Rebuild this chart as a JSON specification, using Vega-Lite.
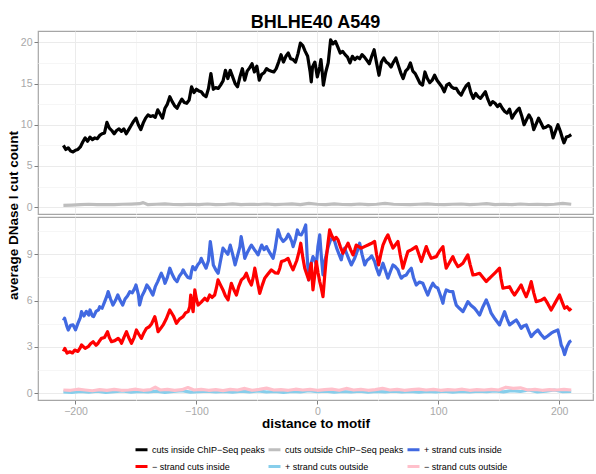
{
  "$schema": "https://vega.github.io/schema/vega-lite/v6.json",
  "padding": {"left": 5, "top": 14, "right": 0, "bottom": 2},
  "title": {"text": "BHLHE40 A549", "fontSize": 18, "fontWeight": "bold", "font": "Liberation Sans", "color": "#000000", "anchor": "middle", "frame": "group", "baseline": "alphabetic", "offset": -16},
  "bounds": "flush",
  "spacing": 3,
  "config": {
    "view": {"stroke": "#A6A6A6", "strokeWidth": 1.2},
    "font": "Liberation Sans",
    "axis": {"domain": false, "tickColor": "#7F7F7F", "tickSize": 4, "labelColor": "#A8A8A8", "labelFontSize": 10.5, "labelPadding": 2, "titleFontSize": 13.5, "titleFontWeight": "bold", "titleColor": "#000000", "labelFont": "Liberation Sans", "titleFont": "Liberation Sans"}
  },
  "datasets": {
    "top": [
      {"distance": -210, "count": 7.5, "series": "cuts inside ChIP−Seq peaks"},
      {"distance": -208, "count": 7.0, "series": "cuts inside ChIP−Seq peaks"},
      {"distance": -206, "count": 7.2, "series": "cuts inside ChIP−Seq peaks"},
      {"distance": -204, "count": 6.8, "series": "cuts inside ChIP−Seq peaks"},
      {"distance": -202, "count": 6.7, "series": "cuts inside ChIP−Seq peaks"},
      {"distance": -200, "count": 6.9, "series": "cuts inside ChIP−Seq peaks"},
      {"distance": -198, "count": 7.0, "series": "cuts inside ChIP−Seq peaks"},
      {"distance": -196, "count": 7.3, "series": "cuts inside ChIP−Seq peaks"},
      {"distance": -194, "count": 7.9, "series": "cuts inside ChIP−Seq peaks"},
      {"distance": -192, "count": 8.4, "series": "cuts inside ChIP−Seq peaks"},
      {"distance": -190, "count": 8.0, "series": "cuts inside ChIP−Seq peaks"},
      {"distance": -188, "count": 8.5, "series": "cuts inside ChIP−Seq peaks"},
      {"distance": -186, "count": 8.2, "series": "cuts inside ChIP−Seq peaks"},
      {"distance": -184, "count": 8.4, "series": "cuts inside ChIP−Seq peaks"},
      {"distance": -182, "count": 8.3, "series": "cuts inside ChIP−Seq peaks"},
      {"distance": -180, "count": 8.7, "series": "cuts inside ChIP−Seq peaks"},
      {"distance": -178, "count": 8.9, "series": "cuts inside ChIP−Seq peaks"},
      {"distance": -176, "count": 9.0, "series": "cuts inside ChIP−Seq peaks"},
      {"distance": -174, "count": 10.3, "series": "cuts inside ChIP−Seq peaks"},
      {"distance": -172, "count": 9.6, "series": "cuts inside ChIP−Seq peaks"},
      {"distance": -170, "count": 9.3, "series": "cuts inside ChIP−Seq peaks"},
      {"distance": -168, "count": 8.9, "series": "cuts inside ChIP−Seq peaks"},
      {"distance": -166, "count": 9.3, "series": "cuts inside ChIP−Seq peaks"},
      {"distance": -164, "count": 9.5, "series": "cuts inside ChIP−Seq peaks"},
      {"distance": -162, "count": 9.2, "series": "cuts inside ChIP−Seq peaks"},
      {"distance": -160, "count": 9.5, "series": "cuts inside ChIP−Seq peaks"},
      {"distance": -158, "count": 8.9, "series": "cuts inside ChIP−Seq peaks"},
      {"distance": -156, "count": 9.4, "series": "cuts inside ChIP−Seq peaks"},
      {"distance": -154, "count": 9.9, "series": "cuts inside ChIP−Seq peaks"},
      {"distance": -152, "count": 10.4, "series": "cuts inside ChIP−Seq peaks"},
      {"distance": -150, "count": 10.8, "series": "cuts inside ChIP−Seq peaks"},
      {"distance": -148, "count": 10.0, "series": "cuts inside ChIP−Seq peaks"},
      {"distance": -146, "count": 9.4, "series": "cuts inside ChIP−Seq peaks"},
      {"distance": -144, "count": 10.2, "series": "cuts inside ChIP−Seq peaks"},
      {"distance": -142, "count": 10.8, "series": "cuts inside ChIP−Seq peaks"},
      {"distance": -140, "count": 11.2, "series": "cuts inside ChIP−Seq peaks"},
      {"distance": -138, "count": 11.0, "series": "cuts inside ChIP−Seq peaks"},
      {"distance": -136, "count": 11.1, "series": "cuts inside ChIP−Seq peaks"},
      {"distance": -134, "count": 10.9, "series": "cuts inside ChIP−Seq peaks"},
      {"distance": -132, "count": 11.8, "series": "cuts inside ChIP−Seq peaks"},
      {"distance": -130, "count": 11.3, "series": "cuts inside ChIP−Seq peaks"},
      {"distance": -128, "count": 10.8, "series": "cuts inside ChIP−Seq peaks"},
      {"distance": -126, "count": 12.0, "series": "cuts inside ChIP−Seq peaks"},
      {"distance": -124, "count": 12.5, "series": "cuts inside ChIP−Seq peaks"},
      {"distance": -122, "count": 13.4, "series": "cuts inside ChIP−Seq peaks"},
      {"distance": -120, "count": 12.8, "series": "cuts inside ChIP−Seq peaks"},
      {"distance": -118, "count": 12.3, "series": "cuts inside ChIP−Seq peaks"},
      {"distance": -116, "count": 12.0, "series": "cuts inside ChIP−Seq peaks"},
      {"distance": -114, "count": 12.6, "series": "cuts inside ChIP−Seq peaks"},
      {"distance": -112, "count": 13.1, "series": "cuts inside ChIP−Seq peaks"},
      {"distance": -110, "count": 12.7, "series": "cuts inside ChIP−Seq peaks"},
      {"distance": -108, "count": 12.6, "series": "cuts inside ChIP−Seq peaks"},
      {"distance": -106, "count": 13.0, "series": "cuts inside ChIP−Seq peaks"},
      {"distance": -104, "count": 14.6, "series": "cuts inside ChIP−Seq peaks"},
      {"distance": -102, "count": 13.9, "series": "cuts inside ChIP−Seq peaks"},
      {"distance": -100, "count": 14.3, "series": "cuts inside ChIP−Seq peaks"},
      {"distance": -98, "count": 14.1, "series": "cuts inside ChIP−Seq peaks"},
      {"distance": -96, "count": 14.0, "series": "cuts inside ChIP−Seq peaks"},
      {"distance": -94, "count": 13.6, "series": "cuts inside ChIP−Seq peaks"},
      {"distance": -92, "count": 13.4, "series": "cuts inside ChIP−Seq peaks"},
      {"distance": -90, "count": 14.4, "series": "cuts inside ChIP−Seq peaks"},
      {"distance": -88, "count": 16.2, "series": "cuts inside ChIP−Seq peaks"},
      {"distance": -86, "count": 14.3, "series": "cuts inside ChIP−Seq peaks"},
      {"distance": -84, "count": 14.5, "series": "cuts inside ChIP−Seq peaks"},
      {"distance": -82, "count": 14.4, "series": "cuts inside ChIP−Seq peaks"},
      {"distance": -80, "count": 14.8, "series": "cuts inside ChIP−Seq peaks"},
      {"distance": -78, "count": 15.3, "series": "cuts inside ChIP−Seq peaks"},
      {"distance": -76, "count": 16.6, "series": "cuts inside ChIP−Seq peaks"},
      {"distance": -74, "count": 15.6, "series": "cuts inside ChIP−Seq peaks"},
      {"distance": -72, "count": 16.6, "series": "cuts inside ChIP−Seq peaks"},
      {"distance": -70, "count": 15.8, "series": "cuts inside ChIP−Seq peaks"},
      {"distance": -68, "count": 15.0, "series": "cuts inside ChIP−Seq peaks"},
      {"distance": -66, "count": 14.6, "series": "cuts inside ChIP−Seq peaks"},
      {"distance": -64, "count": 15.8, "series": "cuts inside ChIP−Seq peaks"},
      {"distance": -62, "count": 16.8, "series": "cuts inside ChIP−Seq peaks"},
      {"distance": -60, "count": 15.4, "series": "cuts inside ChIP−Seq peaks"},
      {"distance": -58, "count": 16.5, "series": "cuts inside ChIP−Seq peaks"},
      {"distance": -56, "count": 16.9, "series": "cuts inside ChIP−Seq peaks"},
      {"distance": -54, "count": 17.4, "series": "cuts inside ChIP−Seq peaks"},
      {"distance": -52, "count": 16.4, "series": "cuts inside ChIP−Seq peaks"},
      {"distance": -50, "count": 17.1, "series": "cuts inside ChIP−Seq peaks"},
      {"distance": -48, "count": 15.4, "series": "cuts inside ChIP−Seq peaks"},
      {"distance": -46, "count": 16.1, "series": "cuts inside ChIP−Seq peaks"},
      {"distance": -44, "count": 16.3, "series": "cuts inside ChIP−Seq peaks"},
      {"distance": -42, "count": 16.8, "series": "cuts inside ChIP−Seq peaks"},
      {"distance": -40, "count": 16.6, "series": "cuts inside ChIP−Seq peaks"},
      {"distance": -38, "count": 16.5, "series": "cuts inside ChIP−Seq peaks"},
      {"distance": -36, "count": 16.4, "series": "cuts inside ChIP−Seq peaks"},
      {"distance": -34, "count": 16.8, "series": "cuts inside ChIP−Seq peaks"},
      {"distance": -32, "count": 17.6, "series": "cuts inside ChIP−Seq peaks"},
      {"distance": -30, "count": 18.5, "series": "cuts inside ChIP−Seq peaks"},
      {"distance": -28, "count": 17.6, "series": "cuts inside ChIP−Seq peaks"},
      {"distance": -26, "count": 18.3, "series": "cuts inside ChIP−Seq peaks"},
      {"distance": -24, "count": 18.7, "series": "cuts inside ChIP−Seq peaks"},
      {"distance": -22, "count": 18.0, "series": "cuts inside ChIP−Seq peaks"},
      {"distance": -20, "count": 17.9, "series": "cuts inside ChIP−Seq peaks"},
      {"distance": -18, "count": 17.6, "series": "cuts inside ChIP−Seq peaks"},
      {"distance": -16, "count": 18.6, "series": "cuts inside ChIP−Seq peaks"},
      {"distance": -14, "count": 19.9, "series": "cuts inside ChIP−Seq peaks"},
      {"distance": -12, "count": 19.6, "series": "cuts inside ChIP−Seq peaks"},
      {"distance": -10, "count": 18.9, "series": "cuts inside ChIP−Seq peaks"},
      {"distance": -8, "count": 18.3, "series": "cuts inside ChIP−Seq peaks"},
      {"distance": -6, "count": 16.5, "series": "cuts inside ChIP−Seq peaks"},
      {"distance": -5, "count": 15.2, "series": "cuts inside ChIP−Seq peaks"},
      {"distance": -4, "count": 17.0, "series": "cuts inside ChIP−Seq peaks"},
      {"distance": -2, "count": 17.6, "series": "cuts inside ChIP−Seq peaks"},
      {"distance": 0, "count": 15.8, "series": "cuts inside ChIP−Seq peaks"},
      {"distance": 2, "count": 17.0, "series": "cuts inside ChIP−Seq peaks"},
      {"distance": 3, "count": 17.9, "series": "cuts inside ChIP−Seq peaks"},
      {"distance": 4, "count": 16.5, "series": "cuts inside ChIP−Seq peaks"},
      {"distance": 5, "count": 14.8, "series": "cuts inside ChIP−Seq peaks"},
      {"distance": 7, "count": 16.4, "series": "cuts inside ChIP−Seq peaks"},
      {"distance": 9, "count": 17.5, "series": "cuts inside ChIP−Seq peaks"},
      {"distance": 11, "count": 20.3, "series": "cuts inside ChIP−Seq peaks"},
      {"distance": 13, "count": 19.8, "series": "cuts inside ChIP−Seq peaks"},
      {"distance": 15, "count": 20.1, "series": "cuts inside ChIP−Seq peaks"},
      {"distance": 17, "count": 19.4, "series": "cuts inside ChIP−Seq peaks"},
      {"distance": 19, "count": 18.7, "series": "cuts inside ChIP−Seq peaks"},
      {"distance": 21, "count": 18.9, "series": "cuts inside ChIP−Seq peaks"},
      {"distance": 23, "count": 18.5, "series": "cuts inside ChIP−Seq peaks"},
      {"distance": 25, "count": 18.2, "series": "cuts inside ChIP−Seq peaks"},
      {"distance": 27, "count": 17.5, "series": "cuts inside ChIP−Seq peaks"},
      {"distance": 29, "count": 18.3, "series": "cuts inside ChIP−Seq peaks"},
      {"distance": 31, "count": 17.9, "series": "cuts inside ChIP−Seq peaks"},
      {"distance": 33, "count": 18.2, "series": "cuts inside ChIP−Seq peaks"},
      {"distance": 35, "count": 18.0, "series": "cuts inside ChIP−Seq peaks"},
      {"distance": 37, "count": 18.5, "series": "cuts inside ChIP−Seq peaks"},
      {"distance": 39, "count": 18.2, "series": "cuts inside ChIP−Seq peaks"},
      {"distance": 41, "count": 17.8, "series": "cuts inside ChIP−Seq peaks"},
      {"distance": 43, "count": 17.4, "series": "cuts inside ChIP−Seq peaks"},
      {"distance": 45, "count": 18.3, "series": "cuts inside ChIP−Seq peaks"},
      {"distance": 47, "count": 19.1, "series": "cuts inside ChIP−Seq peaks"},
      {"distance": 49, "count": 17.5, "series": "cuts inside ChIP−Seq peaks"},
      {"distance": 51, "count": 16.0, "series": "cuts inside ChIP−Seq peaks"},
      {"distance": 53, "count": 17.6, "series": "cuts inside ChIP−Seq peaks"},
      {"distance": 55, "count": 18.1, "series": "cuts inside ChIP−Seq peaks"},
      {"distance": 57, "count": 17.6, "series": "cuts inside ChIP−Seq peaks"},
      {"distance": 59, "count": 17.4, "series": "cuts inside ChIP−Seq peaks"},
      {"distance": 61, "count": 17.0, "series": "cuts inside ChIP−Seq peaks"},
      {"distance": 63, "count": 17.6, "series": "cuts inside ChIP−Seq peaks"},
      {"distance": 65, "count": 18.1, "series": "cuts inside ChIP−Seq peaks"},
      {"distance": 67, "count": 17.2, "series": "cuts inside ChIP−Seq peaks"},
      {"distance": 69, "count": 16.3, "series": "cuts inside ChIP−Seq peaks"},
      {"distance": 71, "count": 15.6, "series": "cuts inside ChIP−Seq peaks"},
      {"distance": 73, "count": 16.5, "series": "cuts inside ChIP−Seq peaks"},
      {"distance": 75, "count": 16.8, "series": "cuts inside ChIP−Seq peaks"},
      {"distance": 77, "count": 17.5, "series": "cuts inside ChIP−Seq peaks"},
      {"distance": 79, "count": 16.5, "series": "cuts inside ChIP−Seq peaks"},
      {"distance": 81, "count": 16.2, "series": "cuts inside ChIP−Seq peaks"},
      {"distance": 83, "count": 15.6, "series": "cuts inside ChIP−Seq peaks"},
      {"distance": 85, "count": 15.0, "series": "cuts inside ChIP−Seq peaks"},
      {"distance": 87, "count": 14.8, "series": "cuts inside ChIP−Seq peaks"},
      {"distance": 89, "count": 16.4, "series": "cuts inside ChIP−Seq peaks"},
      {"distance": 91, "count": 15.6, "series": "cuts inside ChIP−Seq peaks"},
      {"distance": 93, "count": 15.1, "series": "cuts inside ChIP−Seq peaks"},
      {"distance": 95, "count": 15.4, "series": "cuts inside ChIP−Seq peaks"},
      {"distance": 97, "count": 16.0, "series": "cuts inside ChIP−Seq peaks"},
      {"distance": 99, "count": 15.4, "series": "cuts inside ChIP−Seq peaks"},
      {"distance": 101, "count": 15.0, "series": "cuts inside ChIP−Seq peaks"},
      {"distance": 103, "count": 14.6, "series": "cuts inside ChIP−Seq peaks"},
      {"distance": 105, "count": 14.0, "series": "cuts inside ChIP−Seq peaks"},
      {"distance": 107, "count": 14.8, "series": "cuts inside ChIP−Seq peaks"},
      {"distance": 109, "count": 15.0, "series": "cuts inside ChIP−Seq peaks"},
      {"distance": 111, "count": 14.6, "series": "cuts inside ChIP−Seq peaks"},
      {"distance": 113, "count": 14.4, "series": "cuts inside ChIP−Seq peaks"},
      {"distance": 115, "count": 14.4, "series": "cuts inside ChIP−Seq peaks"},
      {"distance": 117, "count": 13.9, "series": "cuts inside ChIP−Seq peaks"},
      {"distance": 119, "count": 13.6, "series": "cuts inside ChIP−Seq peaks"},
      {"distance": 121, "count": 14.2, "series": "cuts inside ChIP−Seq peaks"},
      {"distance": 123, "count": 14.7, "series": "cuts inside ChIP−Seq peaks"},
      {"distance": 125, "count": 15.0, "series": "cuts inside ChIP−Seq peaks"},
      {"distance": 127, "count": 13.9, "series": "cuts inside ChIP−Seq peaks"},
      {"distance": 129, "count": 13.2, "series": "cuts inside ChIP−Seq peaks"},
      {"distance": 131, "count": 13.8, "series": "cuts inside ChIP−Seq peaks"},
      {"distance": 133, "count": 13.4, "series": "cuts inside ChIP−Seq peaks"},
      {"distance": 135, "count": 13.2, "series": "cuts inside ChIP−Seq peaks"},
      {"distance": 137, "count": 13.6, "series": "cuts inside ChIP−Seq peaks"},
      {"distance": 139, "count": 14.0, "series": "cuts inside ChIP−Seq peaks"},
      {"distance": 141, "count": 13.1, "series": "cuts inside ChIP−Seq peaks"},
      {"distance": 143, "count": 12.4, "series": "cuts inside ChIP−Seq peaks"},
      {"distance": 145, "count": 12.8, "series": "cuts inside ChIP−Seq peaks"},
      {"distance": 147, "count": 12.6, "series": "cuts inside ChIP−Seq peaks"},
      {"distance": 149, "count": 12.2, "series": "cuts inside ChIP−Seq peaks"},
      {"distance": 151, "count": 12.5, "series": "cuts inside ChIP−Seq peaks"},
      {"distance": 153, "count": 12.0, "series": "cuts inside ChIP−Seq peaks"},
      {"distance": 155, "count": 11.6, "series": "cuts inside ChIP−Seq peaks"},
      {"distance": 157, "count": 11.4, "series": "cuts inside ChIP−Seq peaks"},
      {"distance": 159, "count": 11.9, "series": "cuts inside ChIP−Seq peaks"},
      {"distance": 161, "count": 10.8, "series": "cuts inside ChIP−Seq peaks"},
      {"distance": 163, "count": 11.3, "series": "cuts inside ChIP−Seq peaks"},
      {"distance": 165, "count": 11.7, "series": "cuts inside ChIP−Seq peaks"},
      {"distance": 167, "count": 12.0, "series": "cuts inside ChIP−Seq peaks"},
      {"distance": 169, "count": 11.1, "series": "cuts inside ChIP−Seq peaks"},
      {"distance": 171, "count": 10.0, "series": "cuts inside ChIP−Seq peaks"},
      {"distance": 173, "count": 10.6, "series": "cuts inside ChIP−Seq peaks"},
      {"distance": 175, "count": 11.2, "series": "cuts inside ChIP−Seq peaks"},
      {"distance": 177, "count": 10.7, "series": "cuts inside ChIP−Seq peaks"},
      {"distance": 179, "count": 9.4, "series": "cuts inside ChIP−Seq peaks"},
      {"distance": 181, "count": 10.1, "series": "cuts inside ChIP−Seq peaks"},
      {"distance": 183, "count": 10.8, "series": "cuts inside ChIP−Seq peaks"},
      {"distance": 185, "count": 10.2, "series": "cuts inside ChIP−Seq peaks"},
      {"distance": 187, "count": 9.6, "series": "cuts inside ChIP−Seq peaks"},
      {"distance": 189, "count": 9.7, "series": "cuts inside ChIP−Seq peaks"},
      {"distance": 191, "count": 9.9, "series": "cuts inside ChIP−Seq peaks"},
      {"distance": 193, "count": 9.7, "series": "cuts inside ChIP−Seq peaks"},
      {"distance": 195, "count": 8.4, "series": "cuts inside ChIP−Seq peaks"},
      {"distance": 197, "count": 9.2, "series": "cuts inside ChIP−Seq peaks"},
      {"distance": 199, "count": 10.0, "series": "cuts inside ChIP−Seq peaks"},
      {"distance": 201, "count": 9.2, "series": "cuts inside ChIP−Seq peaks"},
      {"distance": 203, "count": 8.2, "series": "cuts inside ChIP−Seq peaks"},
      {"distance": 204, "count": 7.8, "series": "cuts inside ChIP−Seq peaks"},
      {"distance": 206, "count": 8.5, "series": "cuts inside ChIP−Seq peaks"},
      {"distance": 208, "count": 8.6, "series": "cuts inside ChIP−Seq peaks"},
      {"distance": 210, "count": 8.8, "series": "cuts inside ChIP−Seq peaks"},
      {"distance": -210, "count": 0.22, "series": "cuts outside ChIP−Seq peaks"},
      {"distance": -203, "count": 0.25, "series": "cuts outside ChIP−Seq peaks"},
      {"distance": -196, "count": 0.3, "series": "cuts outside ChIP−Seq peaks"},
      {"distance": -189, "count": 0.35, "series": "cuts outside ChIP−Seq peaks"},
      {"distance": -182, "count": 0.3, "series": "cuts outside ChIP−Seq peaks"},
      {"distance": -175, "count": 0.32, "series": "cuts outside ChIP−Seq peaks"},
      {"distance": -168, "count": 0.3, "series": "cuts outside ChIP−Seq peaks"},
      {"distance": -161, "count": 0.35, "series": "cuts outside ChIP−Seq peaks"},
      {"distance": -154, "count": 0.38, "series": "cuts outside ChIP−Seq peaks"},
      {"distance": -147, "count": 0.42, "series": "cuts outside ChIP−Seq peaks"},
      {"distance": -144, "count": 0.55, "series": "cuts outside ChIP−Seq peaks"},
      {"distance": -140, "count": 0.3, "series": "cuts outside ChIP−Seq peaks"},
      {"distance": -133, "count": 0.35, "series": "cuts outside ChIP−Seq peaks"},
      {"distance": -126, "count": 0.4, "series": "cuts outside ChIP−Seq peaks"},
      {"distance": -119, "count": 0.32, "series": "cuts outside ChIP−Seq peaks"},
      {"distance": -112, "count": 0.3, "series": "cuts outside ChIP−Seq peaks"},
      {"distance": -105, "count": 0.35, "series": "cuts outside ChIP−Seq peaks"},
      {"distance": -98, "count": 0.3, "series": "cuts outside ChIP−Seq peaks"},
      {"distance": -91, "count": 0.38, "series": "cuts outside ChIP−Seq peaks"},
      {"distance": -84, "count": 0.3, "series": "cuts outside ChIP−Seq peaks"},
      {"distance": -77, "count": 0.32, "series": "cuts outside ChIP−Seq peaks"},
      {"distance": -70, "count": 0.4, "series": "cuts outside ChIP−Seq peaks"},
      {"distance": -63, "count": 0.3, "series": "cuts outside ChIP−Seq peaks"},
      {"distance": -56, "count": 0.35, "series": "cuts outside ChIP−Seq peaks"},
      {"distance": -49, "count": 0.32, "series": "cuts outside ChIP−Seq peaks"},
      {"distance": -42, "count": 0.38, "series": "cuts outside ChIP−Seq peaks"},
      {"distance": -35, "count": 0.3, "series": "cuts outside ChIP−Seq peaks"},
      {"distance": -28, "count": 0.35, "series": "cuts outside ChIP−Seq peaks"},
      {"distance": -21, "count": 0.4, "series": "cuts outside ChIP−Seq peaks"},
      {"distance": -14, "count": 0.3, "series": "cuts outside ChIP−Seq peaks"},
      {"distance": -7, "count": 0.45, "series": "cuts outside ChIP−Seq peaks"},
      {"distance": 0, "count": 0.35, "series": "cuts outside ChIP−Seq peaks"},
      {"distance": 7, "count": 0.3, "series": "cuts outside ChIP−Seq peaks"},
      {"distance": 14, "count": 0.4, "series": "cuts outside ChIP−Seq peaks"},
      {"distance": 21, "count": 0.32, "series": "cuts outside ChIP−Seq peaks"},
      {"distance": 28, "count": 0.3, "series": "cuts outside ChIP−Seq peaks"},
      {"distance": 35, "count": 0.38, "series": "cuts outside ChIP−Seq peaks"},
      {"distance": 42, "count": 0.3, "series": "cuts outside ChIP−Seq peaks"},
      {"distance": 49, "count": 0.35, "series": "cuts outside ChIP−Seq peaks"},
      {"distance": 56, "count": 0.45, "series": "cuts outside ChIP−Seq peaks"},
      {"distance": 63, "count": 0.35, "series": "cuts outside ChIP−Seq peaks"},
      {"distance": 70, "count": 0.32, "series": "cuts outside ChIP−Seq peaks"},
      {"distance": 77, "count": 0.3, "series": "cuts outside ChIP−Seq peaks"},
      {"distance": 84, "count": 0.35, "series": "cuts outside ChIP−Seq peaks"},
      {"distance": 91, "count": 0.4, "series": "cuts outside ChIP−Seq peaks"},
      {"distance": 98, "count": 0.32, "series": "cuts outside ChIP−Seq peaks"},
      {"distance": 105, "count": 0.3, "series": "cuts outside ChIP−Seq peaks"},
      {"distance": 112, "count": 0.35, "series": "cuts outside ChIP−Seq peaks"},
      {"distance": 119, "count": 0.38, "series": "cuts outside ChIP−Seq peaks"},
      {"distance": 126, "count": 0.3, "series": "cuts outside ChIP−Seq peaks"},
      {"distance": 133, "count": 0.35, "series": "cuts outside ChIP−Seq peaks"},
      {"distance": 140, "count": 0.42, "series": "cuts outside ChIP−Seq peaks"},
      {"distance": 147, "count": 0.3, "series": "cuts outside ChIP−Seq peaks"},
      {"distance": 154, "count": 0.35, "series": "cuts outside ChIP−Seq peaks"},
      {"distance": 161, "count": 0.3, "series": "cuts outside ChIP−Seq peaks"},
      {"distance": 168, "count": 0.38, "series": "cuts outside ChIP−Seq peaks"},
      {"distance": 175, "count": 0.32, "series": "cuts outside ChIP−Seq peaks"},
      {"distance": 182, "count": 0.35, "series": "cuts outside ChIP−Seq peaks"},
      {"distance": 189, "count": 0.3, "series": "cuts outside ChIP−Seq peaks"},
      {"distance": 196, "count": 0.35, "series": "cuts outside ChIP−Seq peaks"},
      {"distance": 203, "count": 0.45, "series": "cuts outside ChIP−Seq peaks"},
      {"distance": 210, "count": 0.35, "series": "cuts outside ChIP−Seq peaks"}
    ],
    "bottom": [
      {"distance": -210, "count": 4.7, "series": "+ strand cuts inside"},
      {"distance": -209, "count": 4.85, "series": "+ strand cuts inside"},
      {"distance": -207, "count": 4.3, "series": "+ strand cuts inside"},
      {"distance": -206, "count": 4.09, "series": "+ strand cuts inside"},
      {"distance": -204, "count": 4.4, "series": "+ strand cuts inside"},
      {"distance": -202, "count": 4.42, "series": "+ strand cuts inside"},
      {"distance": -200, "count": 4.1, "series": "+ strand cuts inside"},
      {"distance": -198, "count": 4.52, "series": "+ strand cuts inside"},
      {"distance": -196, "count": 4.9, "series": "+ strand cuts inside"},
      {"distance": -195, "count": 5.28, "series": "+ strand cuts inside"},
      {"distance": -193, "count": 5.0, "series": "+ strand cuts inside"},
      {"distance": -191, "count": 5.3, "series": "+ strand cuts inside"},
      {"distance": -189, "count": 5.06, "series": "+ strand cuts inside"},
      {"distance": -188, "count": 5.39, "series": "+ strand cuts inside"},
      {"distance": -186, "count": 5.0, "series": "+ strand cuts inside"},
      {"distance": -185, "count": 4.96, "series": "+ strand cuts inside"},
      {"distance": -183, "count": 5.3, "series": "+ strand cuts inside"},
      {"distance": -181, "count": 5.4, "series": "+ strand cuts inside"},
      {"distance": -180, "count": 5.6, "series": "+ strand cuts inside"},
      {"distance": -178, "count": 5.5, "series": "+ strand cuts inside"},
      {"distance": -176, "count": 5.9, "series": "+ strand cuts inside"},
      {"distance": -174, "count": 6.3, "series": "+ strand cuts inside"},
      {"distance": -173, "count": 6.58, "series": "+ strand cuts inside"},
      {"distance": -171, "count": 6.1, "series": "+ strand cuts inside"},
      {"distance": -169, "count": 5.71, "series": "+ strand cuts inside"},
      {"distance": -167, "count": 6.0, "series": "+ strand cuts inside"},
      {"distance": -165, "count": 6.36, "series": "+ strand cuts inside"},
      {"distance": -163, "count": 6.0, "series": "+ strand cuts inside"},
      {"distance": -161, "count": 5.71, "series": "+ strand cuts inside"},
      {"distance": -159, "count": 6.1, "series": "+ strand cuts inside"},
      {"distance": -157, "count": 6.3, "series": "+ strand cuts inside"},
      {"distance": -155, "count": 6.58, "series": "+ strand cuts inside"},
      {"distance": -153, "count": 6.5, "series": "+ strand cuts inside"},
      {"distance": -151, "count": 6.8, "series": "+ strand cuts inside"},
      {"distance": -150, "count": 7.01, "series": "+ strand cuts inside"},
      {"distance": -148, "count": 6.4, "series": "+ strand cuts inside"},
      {"distance": -147, "count": 5.71, "series": "+ strand cuts inside"},
      {"distance": -145, "count": 6.3, "series": "+ strand cuts inside"},
      {"distance": -143, "count": 6.6, "series": "+ strand cuts inside"},
      {"distance": -141, "count": 7.01, "series": "+ strand cuts inside"},
      {"distance": -139, "count": 6.8, "series": "+ strand cuts inside"},
      {"distance": -137, "count": 6.5, "series": "+ strand cuts inside"},
      {"distance": -136, "count": 6.36, "series": "+ strand cuts inside"},
      {"distance": -134, "count": 6.9, "series": "+ strand cuts inside"},
      {"distance": -132, "count": 7.23, "series": "+ strand cuts inside"},
      {"distance": -130, "count": 7.6, "series": "+ strand cuts inside"},
      {"distance": -129, "count": 7.77, "series": "+ strand cuts inside"},
      {"distance": -127, "count": 7.4, "series": "+ strand cuts inside"},
      {"distance": -126, "count": 7.12, "series": "+ strand cuts inside"},
      {"distance": -124, "count": 7.5, "series": "+ strand cuts inside"},
      {"distance": -122, "count": 8.1, "series": "+ strand cuts inside"},
      {"distance": -120, "count": 7.7, "series": "+ strand cuts inside"},
      {"distance": -118, "count": 7.4, "series": "+ strand cuts inside"},
      {"distance": -116, "count": 7.23, "series": "+ strand cuts inside"},
      {"distance": -114, "count": 7.6, "series": "+ strand cuts inside"},
      {"distance": -112, "count": 7.8, "series": "+ strand cuts inside"},
      {"distance": -111, "count": 7.99, "series": "+ strand cuts inside"},
      {"distance": -109, "count": 7.7, "series": "+ strand cuts inside"},
      {"distance": -107, "count": 7.5, "series": "+ strand cuts inside"},
      {"distance": -105, "count": 7.45, "series": "+ strand cuts inside"},
      {"distance": -104, "count": 7.9, "series": "+ strand cuts inside"},
      {"distance": -103, "count": 8.2, "series": "+ strand cuts inside"},
      {"distance": -101, "count": 8.0, "series": "+ strand cuts inside"},
      {"distance": -99, "count": 8.31, "series": "+ strand cuts inside"},
      {"distance": -97, "count": 8.5, "series": "+ strand cuts inside"},
      {"distance": -96, "count": 8.74, "series": "+ strand cuts inside"},
      {"distance": -94, "count": 8.4, "series": "+ strand cuts inside"},
      {"distance": -92, "count": 8.1, "series": "+ strand cuts inside"},
      {"distance": -90, "count": 8.6, "series": "+ strand cuts inside"},
      {"distance": -88.5, "count": 9.83, "series": "+ strand cuts inside"},
      {"distance": -87, "count": 9.0, "series": "+ strand cuts inside"},
      {"distance": -86, "count": 8.31, "series": "+ strand cuts inside"},
      {"distance": -84, "count": 8.0, "series": "+ strand cuts inside"},
      {"distance": -82, "count": 7.77, "series": "+ strand cuts inside"},
      {"distance": -80, "count": 8.6, "series": "+ strand cuts inside"},
      {"distance": -78, "count": 9.4, "series": "+ strand cuts inside"},
      {"distance": -76, "count": 9.2, "series": "+ strand cuts inside"},
      {"distance": -74, "count": 9.0, "series": "+ strand cuts inside"},
      {"distance": -72, "count": 9.6, "series": "+ strand cuts inside"},
      {"distance": -70, "count": 9.0, "series": "+ strand cuts inside"},
      {"distance": -68, "count": 8.31, "series": "+ strand cuts inside"},
      {"distance": -66, "count": 8.9, "series": "+ strand cuts inside"},
      {"distance": -64, "count": 9.5, "series": "+ strand cuts inside"},
      {"distance": -63, "count": 10.15, "series": "+ strand cuts inside"},
      {"distance": -61, "count": 9.3, "series": "+ strand cuts inside"},
      {"distance": -60, "count": 8.74, "series": "+ strand cuts inside"},
      {"distance": -58, "count": 9.1, "series": "+ strand cuts inside"},
      {"distance": -56, "count": 9.4, "series": "+ strand cuts inside"},
      {"distance": -54.5, "count": 9.6, "series": "+ strand cuts inside"},
      {"distance": -52, "count": 9.3, "series": "+ strand cuts inside"},
      {"distance": -51, "count": 9.2, "series": "+ strand cuts inside"},
      {"distance": -49, "count": 8.96, "series": "+ strand cuts inside"},
      {"distance": -47, "count": 9.4, "series": "+ strand cuts inside"},
      {"distance": -46, "count": 9.6, "series": "+ strand cuts inside"},
      {"distance": -44, "count": 9.3, "series": "+ strand cuts inside"},
      {"distance": -42, "count": 9.5, "series": "+ strand cuts inside"},
      {"distance": -40.7, "count": 9.29, "series": "+ strand cuts inside"},
      {"distance": -38.5, "count": 9.0, "series": "+ strand cuts inside"},
      {"distance": -36.6, "count": 8.74, "series": "+ strand cuts inside"},
      {"distance": -35, "count": 9.3, "series": "+ strand cuts inside"},
      {"distance": -32.5, "count": 10.58, "series": "+ strand cuts inside"},
      {"distance": -30.5, "count": 10.1, "series": "+ strand cuts inside"},
      {"distance": -28.3, "count": 9.83, "series": "+ strand cuts inside"},
      {"distance": -26, "count": 10.0, "series": "+ strand cuts inside"},
      {"distance": -24, "count": 10.3, "series": "+ strand cuts inside"},
      {"distance": -22.8, "count": 10.15, "series": "+ strand cuts inside"},
      {"distance": -21, "count": 9.8, "series": "+ strand cuts inside"},
      {"distance": -20, "count": 9.5, "series": "+ strand cuts inside"},
      {"distance": -18, "count": 10.0, "series": "+ strand cuts inside"},
      {"distance": -16.5, "count": 10.58, "series": "+ strand cuts inside"},
      {"distance": -15, "count": 10.3, "series": "+ strand cuts inside"},
      {"distance": -13.2, "count": 10.26, "series": "+ strand cuts inside"},
      {"distance": -11, "count": 10.6, "series": "+ strand cuts inside"},
      {"distance": -9.6, "count": 10.9, "series": "+ strand cuts inside"},
      {"distance": -8.5, "count": 9.0, "series": "+ strand cuts inside"},
      {"distance": -7.1, "count": 7.34, "series": "+ strand cuts inside"},
      {"distance": -5.5, "count": 8.3, "series": "+ strand cuts inside"},
      {"distance": -3.6, "count": 8.85, "series": "+ strand cuts inside"},
      {"distance": -2, "count": 8.6, "series": "+ strand cuts inside"},
      {"distance": -0.8, "count": 8.31, "series": "+ strand cuts inside"},
      {"distance": 0.5, "count": 9.5, "series": "+ strand cuts inside"},
      {"distance": 2, "count": 10.26, "series": "+ strand cuts inside"},
      {"distance": 3.5, "count": 8.7, "series": "+ strand cuts inside"},
      {"distance": 4.7, "count": 7.66, "series": "+ strand cuts inside"},
      {"distance": 6, "count": 8.5, "series": "+ strand cuts inside"},
      {"distance": 7.4, "count": 8.96, "series": "+ strand cuts inside"},
      {"distance": 9, "count": 9.5, "series": "+ strand cuts inside"},
      {"distance": 11, "count": 9.94, "series": "+ strand cuts inside"},
      {"distance": 12.5, "count": 10.1, "series": "+ strand cuts inside"},
      {"distance": 14.4, "count": 9.83, "series": "+ strand cuts inside"},
      {"distance": 16, "count": 9.4, "series": "+ strand cuts inside"},
      {"distance": 18, "count": 9.0, "series": "+ strand cuts inside"},
      {"distance": 19.8, "count": 8.64, "series": "+ strand cuts inside"},
      {"distance": 21, "count": 9.1, "series": "+ strand cuts inside"},
      {"distance": 22.6, "count": 9.4, "series": "+ strand cuts inside"},
      {"distance": 24.5, "count": 9.0, "series": "+ strand cuts inside"},
      {"distance": 26, "count": 8.7, "series": "+ strand cuts inside"},
      {"distance": 28.1, "count": 8.31, "series": "+ strand cuts inside"},
      {"distance": 30.9, "count": 8.74, "series": "+ strand cuts inside"},
      {"distance": 33, "count": 9.2, "series": "+ strand cuts inside"},
      {"distance": 35, "count": 9.72, "series": "+ strand cuts inside"},
      {"distance": 37, "count": 9.0, "series": "+ strand cuts inside"},
      {"distance": 39.2, "count": 8.31, "series": "+ strand cuts inside"},
      {"distance": 41, "count": 8.6, "series": "+ strand cuts inside"},
      {"distance": 43.3, "count": 8.74, "series": "+ strand cuts inside"},
      {"distance": 45, "count": 8.9, "series": "+ strand cuts inside"},
      {"distance": 47.4, "count": 8.53, "series": "+ strand cuts inside"},
      {"distance": 49, "count": 8.1, "series": "+ strand cuts inside"},
      {"distance": 51, "count": 7.66, "series": "+ strand cuts inside"},
      {"distance": 52.5, "count": 8.0, "series": "+ strand cuts inside"},
      {"distance": 54.3, "count": 8.42, "series": "+ strand cuts inside"},
      {"distance": 56.5, "count": 7.9, "series": "+ strand cuts inside"},
      {"distance": 58.4, "count": 7.45, "series": "+ strand cuts inside"},
      {"distance": 60.5, "count": 7.9, "series": "+ strand cuts inside"},
      {"distance": 62.6, "count": 8.31, "series": "+ strand cuts inside"},
      {"distance": 64.5, "count": 8.2, "series": "+ strand cuts inside"},
      {"distance": 66.7, "count": 7.99, "series": "+ strand cuts inside"},
      {"distance": 68, "count": 7.7, "series": "+ strand cuts inside"},
      {"distance": 69.4, "count": 7.45, "series": "+ strand cuts inside"},
      {"distance": 71.5, "count": 7.6, "series": "+ strand cuts inside"},
      {"distance": 73.6, "count": 7.66, "series": "+ strand cuts inside"},
      {"distance": 75.5, "count": 7.9, "series": "+ strand cuts inside"},
      {"distance": 77.7, "count": 8.1, "series": "+ strand cuts inside"},
      {"distance": 79.5, "count": 7.5, "series": "+ strand cuts inside"},
      {"distance": 81.8, "count": 7.01, "series": "+ strand cuts inside"},
      {"distance": 84.5, "count": 7.2, "series": "+ strand cuts inside"},
      {"distance": 87.3, "count": 7.12, "series": "+ strand cuts inside"},
      {"distance": 89.5, "count": 6.7, "series": "+ strand cuts inside"},
      {"distance": 91.4, "count": 6.36, "series": "+ strand cuts inside"},
      {"distance": 93.5, "count": 6.8, "series": "+ strand cuts inside"},
      {"distance": 95.6, "count": 7.12, "series": "+ strand cuts inside"},
      {"distance": 97.5, "count": 6.9, "series": "+ strand cuts inside"},
      {"distance": 99.7, "count": 6.8, "series": "+ strand cuts inside"},
      {"distance": 102, "count": 6.3, "series": "+ strand cuts inside"},
      {"distance": 103.9, "count": 5.82, "series": "+ strand cuts inside"},
      {"distance": 105, "count": 6.3, "series": "+ strand cuts inside"},
      {"distance": 106.6, "count": 6.69, "series": "+ strand cuts inside"},
      {"distance": 109, "count": 6.6, "series": "+ strand cuts inside"},
      {"distance": 112.1, "count": 6.58, "series": "+ strand cuts inside"},
      {"distance": 113.5, "count": 6.1, "series": "+ strand cuts inside"},
      {"distance": 114.9, "count": 5.71, "series": "+ strand cuts inside"},
      {"distance": 117.5, "count": 5.5, "series": "+ strand cuts inside"},
      {"distance": 120.4, "count": 5.28, "series": "+ strand cuts inside"},
      {"distance": 122.5, "count": 5.6, "series": "+ strand cuts inside"},
      {"distance": 124.5, "count": 5.93, "series": "+ strand cuts inside"},
      {"distance": 127, "count": 5.7, "series": "+ strand cuts inside"},
      {"distance": 130, "count": 5.5, "series": "+ strand cuts inside"},
      {"distance": 132, "count": 5.3, "series": "+ strand cuts inside"},
      {"distance": 134.2, "count": 5.06, "series": "+ strand cuts inside"},
      {"distance": 137, "count": 5.6, "series": "+ strand cuts inside"},
      {"distance": 139.7, "count": 6.04, "series": "+ strand cuts inside"},
      {"distance": 142, "count": 5.6, "series": "+ strand cuts inside"},
      {"distance": 143.8, "count": 5.18, "series": "+ strand cuts inside"},
      {"distance": 147, "count": 4.8, "series": "+ strand cuts inside"},
      {"distance": 150.7, "count": 4.42, "series": "+ strand cuts inside"},
      {"distance": 153, "count": 4.9, "series": "+ strand cuts inside"},
      {"distance": 154.9, "count": 5.28, "series": "+ strand cuts inside"},
      {"distance": 157, "count": 4.8, "series": "+ strand cuts inside"},
      {"distance": 159, "count": 4.42, "series": "+ strand cuts inside"},
      {"distance": 162, "count": 4.6, "series": "+ strand cuts inside"},
      {"distance": 164.5, "count": 4.74, "series": "+ strand cuts inside"},
      {"distance": 166.5, "count": 4.5, "series": "+ strand cuts inside"},
      {"distance": 168.6, "count": 4.2, "series": "+ strand cuts inside"},
      {"distance": 170.5, "count": 4.35, "series": "+ strand cuts inside"},
      {"distance": 172.8, "count": 4.42, "series": "+ strand cuts inside"},
      {"distance": 175, "count": 4.0, "series": "+ strand cuts inside"},
      {"distance": 176.9, "count": 3.66, "series": "+ strand cuts inside"},
      {"distance": 179.5, "count": 3.9, "series": "+ strand cuts inside"},
      {"distance": 182.4, "count": 4.09, "series": "+ strand cuts inside"},
      {"distance": 185, "count": 3.8, "series": "+ strand cuts inside"},
      {"distance": 187.9, "count": 3.55, "series": "+ strand cuts inside"},
      {"distance": 190.5, "count": 3.7, "series": "+ strand cuts inside"},
      {"distance": 193.4, "count": 3.88, "series": "+ strand cuts inside"},
      {"distance": 196, "count": 4.0, "series": "+ strand cuts inside"},
      {"distance": 198.9, "count": 4.09, "series": "+ strand cuts inside"},
      {"distance": 200.5, "count": 3.6, "series": "+ strand cuts inside"},
      {"distance": 201.7, "count": 3.12, "series": "+ strand cuts inside"},
      {"distance": 203, "count": 2.9, "series": "+ strand cuts inside"},
      {"distance": 204.5, "count": 2.5, "series": "+ strand cuts inside"},
      {"distance": 206.5, "count": 3.0, "series": "+ strand cuts inside"},
      {"distance": 208.6, "count": 3.33, "series": "+ strand cuts inside"},
      {"distance": 210, "count": 3.4, "series": "+ strand cuts inside"},
      {"distance": -210, "count": 2.7, "series": "− strand cuts inside"},
      {"distance": -208.8, "count": 2.9, "series": "− strand cuts inside"},
      {"distance": -207, "count": 2.6, "series": "− strand cuts inside"},
      {"distance": -204.7, "count": 2.68, "series": "− strand cuts inside"},
      {"distance": -202.5, "count": 2.6, "series": "− strand cuts inside"},
      {"distance": -200.6, "count": 2.79, "series": "− strand cuts inside"},
      {"distance": -198, "count": 2.7, "series": "− strand cuts inside"},
      {"distance": -196, "count": 2.95, "series": "− strand cuts inside"},
      {"distance": -195, "count": 3.12, "series": "− strand cuts inside"},
      {"distance": -192, "count": 2.9, "series": "− strand cuts inside"},
      {"distance": -189.5, "count": 3.01, "series": "− strand cuts inside"},
      {"distance": -187.5, "count": 3.2, "series": "− strand cuts inside"},
      {"distance": -185.4, "count": 3.33, "series": "− strand cuts inside"},
      {"distance": -183, "count": 3.1, "series": "− strand cuts inside"},
      {"distance": -181.3, "count": 3.23, "series": "− strand cuts inside"},
      {"distance": -180, "count": 3.4, "series": "− strand cuts inside"},
      {"distance": -178.5, "count": 3.55, "series": "− strand cuts inside"},
      {"distance": -176, "count": 3.6, "series": "− strand cuts inside"},
      {"distance": -173.5, "count": 3.98, "series": "− strand cuts inside"},
      {"distance": -172, "count": 3.6, "series": "− strand cuts inside"},
      {"distance": -170.2, "count": 3.33, "series": "− strand cuts inside"},
      {"distance": -167.5, "count": 3.4, "series": "− strand cuts inside"},
      {"distance": -164.7, "count": 3.55, "series": "− strand cuts inside"},
      {"distance": -163, "count": 3.4, "series": "− strand cuts inside"},
      {"distance": -161.9, "count": 3.23, "series": "− strand cuts inside"},
      {"distance": -160, "count": 3.6, "series": "− strand cuts inside"},
      {"distance": -157.8, "count": 3.98, "series": "− strand cuts inside"},
      {"distance": -156, "count": 3.6, "series": "− strand cuts inside"},
      {"distance": -153.7, "count": 3.23, "series": "− strand cuts inside"},
      {"distance": -151.5, "count": 3.6, "series": "− strand cuts inside"},
      {"distance": -149.6, "count": 4.09, "series": "− strand cuts inside"},
      {"distance": -147.5, "count": 3.8, "series": "− strand cuts inside"},
      {"distance": -145.5, "count": 3.55, "series": "− strand cuts inside"},
      {"distance": -143.5, "count": 3.9, "series": "− strand cuts inside"},
      {"distance": -141.3, "count": 4.2, "series": "− strand cuts inside"},
      {"distance": -139, "count": 4.3, "series": "− strand cuts inside"},
      {"distance": -137, "count": 4.5, "series": "− strand cuts inside"},
      {"distance": -134.4, "count": 4.96, "series": "− strand cuts inside"},
      {"distance": -133, "count": 4.5, "series": "− strand cuts inside"},
      {"distance": -131.7, "count": 3.98, "series": "− strand cuts inside"},
      {"distance": -129.5, "count": 4.2, "series": "− strand cuts inside"},
      {"distance": -127.5, "count": 4.42, "series": "− strand cuts inside"},
      {"distance": -125, "count": 4.8, "series": "− strand cuts inside"},
      {"distance": -122, "count": 5.39, "series": "− strand cuts inside"},
      {"distance": -119, "count": 5.0, "series": "− strand cuts inside"},
      {"distance": -116.5, "count": 4.52, "series": "− strand cuts inside"},
      {"distance": -114, "count": 4.8, "series": "− strand cuts inside"},
      {"distance": -111, "count": 4.96, "series": "− strand cuts inside"},
      {"distance": -109, "count": 5.2, "series": "− strand cuts inside"},
      {"distance": -106.9, "count": 5.28, "series": "− strand cuts inside"},
      {"distance": -105.5, "count": 5.6, "series": "− strand cuts inside"},
      {"distance": -104.7, "count": 6.36, "series": "− strand cuts inside"},
      {"distance": -103.7, "count": 5.7, "series": "− strand cuts inside"},
      {"distance": -102.7, "count": 5.28, "series": "− strand cuts inside"},
      {"distance": -101.3, "count": 6.69, "series": "− strand cuts inside"},
      {"distance": -100, "count": 6.1, "series": "− strand cuts inside"},
      {"distance": -98.6, "count": 5.71, "series": "− strand cuts inside"},
      {"distance": -96, "count": 5.9, "series": "− strand cuts inside"},
      {"distance": -93.1, "count": 6.15, "series": "− strand cuts inside"},
      {"distance": -91, "count": 6.0, "series": "− strand cuts inside"},
      {"distance": -89, "count": 6.36, "series": "− strand cuts inside"},
      {"distance": -87, "count": 6.2, "series": "− strand cuts inside"},
      {"distance": -84.9, "count": 6.36, "series": "− strand cuts inside"},
      {"distance": -83.5, "count": 6.8, "series": "− strand cuts inside"},
      {"distance": -82.1, "count": 7.34, "series": "− strand cuts inside"},
      {"distance": -80, "count": 7.0, "series": "− strand cuts inside"},
      {"distance": -78, "count": 6.69, "series": "− strand cuts inside"},
      {"distance": -76, "count": 6.3, "series": "− strand cuts inside"},
      {"distance": -73.8, "count": 6.04, "series": "− strand cuts inside"},
      {"distance": -72.5, "count": 6.6, "series": "− strand cuts inside"},
      {"distance": -71.1, "count": 7.12, "series": "− strand cuts inside"},
      {"distance": -69, "count": 6.7, "series": "− strand cuts inside"},
      {"distance": -66.9, "count": 6.36, "series": "− strand cuts inside"},
      {"distance": -65, "count": 6.9, "series": "− strand cuts inside"},
      {"distance": -62.8, "count": 7.34, "series": "− strand cuts inside"},
      {"distance": -60.5, "count": 7.5, "series": "− strand cuts inside"},
      {"distance": -58.7, "count": 7.77, "series": "− strand cuts inside"},
      {"distance": -56.5, "count": 7.3, "series": "− strand cuts inside"},
      {"distance": -54.5, "count": 7.01, "series": "− strand cuts inside"},
      {"distance": -53, "count": 7.5, "series": "− strand cuts inside"},
      {"distance": -51.7, "count": 8.1, "series": "− strand cuts inside"},
      {"distance": -49.5, "count": 7.2, "series": "− strand cuts inside"},
      {"distance": -47.6, "count": 6.47, "series": "− strand cuts inside"},
      {"distance": -45.5, "count": 7.0, "series": "− strand cuts inside"},
      {"distance": -43.5, "count": 7.45, "series": "− strand cuts inside"},
      {"distance": -41, "count": 7.7, "series": "− strand cuts inside"},
      {"distance": -38, "count": 7.99, "series": "− strand cuts inside"},
      {"distance": -35, "count": 7.8, "series": "− strand cuts inside"},
      {"distance": -32.5, "count": 7.77, "series": "− strand cuts inside"},
      {"distance": -31, "count": 8.1, "series": "− strand cuts inside"},
      {"distance": -29.7, "count": 8.53, "series": "− strand cuts inside"},
      {"distance": -27, "count": 8.6, "series": "− strand cuts inside"},
      {"distance": -24.2, "count": 8.74, "series": "− strand cuts inside"},
      {"distance": -22, "count": 8.3, "series": "− strand cuts inside"},
      {"distance": -20.1, "count": 7.99, "series": "− strand cuts inside"},
      {"distance": -17, "count": 8.6, "series": "− strand cuts inside"},
      {"distance": -15, "count": 9.2, "series": "− strand cuts inside"},
      {"distance": -13.7, "count": 9.72, "series": "− strand cuts inside"},
      {"distance": -12, "count": 8.8, "series": "− strand cuts inside"},
      {"distance": -10.4, "count": 8.1, "series": "− strand cuts inside"},
      {"distance": -8.7, "count": 7.7, "series": "− strand cuts inside"},
      {"distance": -7.1, "count": 7.34, "series": "− strand cuts inside"},
      {"distance": -6, "count": 8.0, "series": "− strand cuts inside"},
      {"distance": -5, "count": 8.42, "series": "− strand cuts inside"},
      {"distance": -4.3, "count": 7.5, "series": "− strand cuts inside"},
      {"distance": -3.6, "count": 6.69, "series": "− strand cuts inside"},
      {"distance": -2.2, "count": 7.6, "series": "− strand cuts inside"},
      {"distance": -0.8, "count": 8.53, "series": "− strand cuts inside"},
      {"distance": 0.6, "count": 7.8, "series": "− strand cuts inside"},
      {"distance": 2, "count": 7.23, "series": "− strand cuts inside"},
      {"distance": 3.3, "count": 6.8, "series": "− strand cuts inside"},
      {"distance": 4.7, "count": 6.25, "series": "− strand cuts inside"},
      {"distance": 6, "count": 7.5, "series": "− strand cuts inside"},
      {"distance": 7.4, "count": 8.74, "series": "− strand cuts inside"},
      {"distance": 8.8, "count": 9.7, "series": "− strand cuts inside"},
      {"distance": 10.2, "count": 10.58, "series": "− strand cuts inside"},
      {"distance": 12, "count": 10.2, "series": "− strand cuts inside"},
      {"distance": 13.8, "count": 9.94, "series": "− strand cuts inside"},
      {"distance": 15.5, "count": 10.1, "series": "− strand cuts inside"},
      {"distance": 17.1, "count": 9.94, "series": "− strand cuts inside"},
      {"distance": 19, "count": 9.5, "series": "− strand cuts inside"},
      {"distance": 21.2, "count": 9.07, "series": "− strand cuts inside"},
      {"distance": 23.3, "count": 9.4, "series": "− strand cuts inside"},
      {"distance": 25.4, "count": 9.72, "series": "− strand cuts inside"},
      {"distance": 27.5, "count": 9.3, "series": "− strand cuts inside"},
      {"distance": 29.5, "count": 8.96, "series": "− strand cuts inside"},
      {"distance": 31, "count": 9.3, "series": "− strand cuts inside"},
      {"distance": 32.2, "count": 9.6, "series": "− strand cuts inside"},
      {"distance": 34.3, "count": 9.5, "series": "− strand cuts inside"},
      {"distance": 36.4, "count": 9.4, "series": "− strand cuts inside"},
      {"distance": 39, "count": 9.5, "series": "− strand cuts inside"},
      {"distance": 41.9, "count": 9.6, "series": "− strand cuts inside"},
      {"distance": 44.5, "count": 9.7, "series": "− strand cuts inside"},
      {"distance": 47.4, "count": 9.83, "series": "− strand cuts inside"},
      {"distance": 49, "count": 9.0, "series": "− strand cuts inside"},
      {"distance": 50.7, "count": 8.31, "series": "− strand cuts inside"},
      {"distance": 52.5, "count": 9.0, "series": "− strand cuts inside"},
      {"distance": 54.3, "count": 9.6, "series": "− strand cuts inside"},
      {"distance": 56.5, "count": 10.0, "series": "− strand cuts inside"},
      {"distance": 58.4, "count": 10.26, "series": "− strand cuts inside"},
      {"distance": 60.5, "count": 9.8, "series": "− strand cuts inside"},
      {"distance": 62.6, "count": 9.4, "series": "− strand cuts inside"},
      {"distance": 64.5, "count": 9.6, "series": "− strand cuts inside"},
      {"distance": 66.7, "count": 9.83, "series": "− strand cuts inside"},
      {"distance": 68.5, "count": 9.0, "series": "− strand cuts inside"},
      {"distance": 70.8, "count": 8.1, "series": "− strand cuts inside"},
      {"distance": 73, "count": 8.7, "series": "− strand cuts inside"},
      {"distance": 74.9, "count": 9.18, "series": "− strand cuts inside"},
      {"distance": 78, "count": 9.3, "series": "− strand cuts inside"},
      {"distance": 81.8, "count": 9.5, "series": "− strand cuts inside"},
      {"distance": 84, "count": 9.0, "series": "− strand cuts inside"},
      {"distance": 86, "count": 8.53, "series": "− strand cuts inside"},
      {"distance": 88, "count": 9.0, "series": "− strand cuts inside"},
      {"distance": 90.1, "count": 9.5, "series": "− strand cuts inside"},
      {"distance": 92, "count": 9.1, "series": "− strand cuts inside"},
      {"distance": 94.2, "count": 8.74, "series": "− strand cuts inside"},
      {"distance": 96.3, "count": 8.8, "series": "− strand cuts inside"},
      {"distance": 98.4, "count": 8.85, "series": "− strand cuts inside"},
      {"distance": 101, "count": 9.2, "series": "− strand cuts inside"},
      {"distance": 103.9, "count": 9.5, "series": "− strand cuts inside"},
      {"distance": 105.3, "count": 8.7, "series": "− strand cuts inside"},
      {"distance": 106.6, "count": 8.1, "series": "− strand cuts inside"},
      {"distance": 109.5, "count": 8.5, "series": "− strand cuts inside"},
      {"distance": 112.1, "count": 8.85, "series": "− strand cuts inside"},
      {"distance": 114, "count": 8.5, "series": "− strand cuts inside"},
      {"distance": 116.3, "count": 8.2, "series": "− strand cuts inside"},
      {"distance": 118.5, "count": 8.3, "series": "− strand cuts inside"},
      {"distance": 120.4, "count": 8.42, "series": "− strand cuts inside"},
      {"distance": 122.5, "count": 8.7, "series": "− strand cuts inside"},
      {"distance": 124.5, "count": 8.96, "series": "− strand cuts inside"},
      {"distance": 126.5, "count": 8.3, "series": "− strand cuts inside"},
      {"distance": 128.7, "count": 7.66, "series": "− strand cuts inside"},
      {"distance": 131.5, "count": 7.7, "series": "− strand cuts inside"},
      {"distance": 134.2, "count": 7.77, "series": "− strand cuts inside"},
      {"distance": 137, "count": 7.5, "series": "− strand cuts inside"},
      {"distance": 139.7, "count": 7.23, "series": "− strand cuts inside"},
      {"distance": 141.8, "count": 7.4, "series": "− strand cuts inside"},
      {"distance": 143.8, "count": 7.55, "series": "− strand cuts inside"},
      {"distance": 147, "count": 7.8, "series": "− strand cuts inside"},
      {"distance": 150.7, "count": 8.1, "series": "− strand cuts inside"},
      {"distance": 152, "count": 7.4, "series": "− strand cuts inside"},
      {"distance": 153.5, "count": 6.8, "series": "− strand cuts inside"},
      {"distance": 156.3, "count": 6.85, "series": "− strand cuts inside"},
      {"distance": 159, "count": 6.9, "series": "− strand cuts inside"},
      {"distance": 161, "count": 6.6, "series": "− strand cuts inside"},
      {"distance": 163.1, "count": 6.36, "series": "− strand cuts inside"},
      {"distance": 166, "count": 6.7, "series": "− strand cuts inside"},
      {"distance": 168.6, "count": 7.01, "series": "− strand cuts inside"},
      {"distance": 170.7, "count": 6.6, "series": "− strand cuts inside"},
      {"distance": 172.8, "count": 6.25, "series": "− strand cuts inside"},
      {"distance": 175, "count": 6.7, "series": "− strand cuts inside"},
      {"distance": 176.9, "count": 7.23, "series": "− strand cuts inside"},
      {"distance": 179, "count": 6.5, "series": "− strand cuts inside"},
      {"distance": 181, "count": 5.93, "series": "− strand cuts inside"},
      {"distance": 184.5, "count": 6.0, "series": "− strand cuts inside"},
      {"distance": 187.9, "count": 6.15, "series": "− strand cuts inside"},
      {"distance": 190.6, "count": 5.8, "series": "− strand cuts inside"},
      {"distance": 193.4, "count": 5.39, "series": "− strand cuts inside"},
      {"distance": 197, "count": 5.9, "series": "− strand cuts inside"},
      {"distance": 200.3, "count": 6.36, "series": "− strand cuts inside"},
      {"distance": 202.5, "count": 5.9, "series": "− strand cuts inside"},
      {"distance": 204.5, "count": 5.5, "series": "− strand cuts inside"},
      {"distance": 206.5, "count": 5.6, "series": "− strand cuts inside"},
      {"distance": 208.6, "count": 5.39, "series": "− strand cuts inside"},
      {"distance": 210, "count": 5.5, "series": "− strand cuts inside"},
      {"distance": -210, "count": 0.08, "series": "+ strand cuts outside"},
      {"distance": -203, "count": 0.05, "series": "+ strand cuts outside"},
      {"distance": -196, "count": 0.1, "series": "+ strand cuts outside"},
      {"distance": -189, "count": 0.06, "series": "+ strand cuts outside"},
      {"distance": -182, "count": 0.12, "series": "+ strand cuts outside"},
      {"distance": -175, "count": 0.05, "series": "+ strand cuts outside"},
      {"distance": -168, "count": 0.09, "series": "+ strand cuts outside"},
      {"distance": -161, "count": 0.14, "series": "+ strand cuts outside"},
      {"distance": -154, "count": 0.06, "series": "+ strand cuts outside"},
      {"distance": -147, "count": 0.1, "series": "+ strand cuts outside"},
      {"distance": -140, "count": 0.07, "series": "+ strand cuts outside"},
      {"distance": -133, "count": 0.12, "series": "+ strand cuts outside"},
      {"distance": -126, "count": 0.05, "series": "+ strand cuts outside"},
      {"distance": -119, "count": 0.1, "series": "+ strand cuts outside"},
      {"distance": -112, "count": 0.15, "series": "+ strand cuts outside"},
      {"distance": -105, "count": 0.06, "series": "+ strand cuts outside"},
      {"distance": -98, "count": 0.09, "series": "+ strand cuts outside"},
      {"distance": -91, "count": 0.13, "series": "+ strand cuts outside"},
      {"distance": -84, "count": 0.07, "series": "+ strand cuts outside"},
      {"distance": -77, "count": 0.1, "series": "+ strand cuts outside"},
      {"distance": -70, "count": 0.06, "series": "+ strand cuts outside"},
      {"distance": -63, "count": 0.12, "series": "+ strand cuts outside"},
      {"distance": -56, "count": 0.08, "series": "+ strand cuts outside"},
      {"distance": -49, "count": 0.14, "series": "+ strand cuts outside"},
      {"distance": -42, "count": 0.07, "series": "+ strand cuts outside"},
      {"distance": -35, "count": 0.1, "series": "+ strand cuts outside"},
      {"distance": -28, "count": 0.05, "series": "+ strand cuts outside"},
      {"distance": -21, "count": 0.11, "series": "+ strand cuts outside"},
      {"distance": -14, "count": 0.08, "series": "+ strand cuts outside"},
      {"distance": -7, "count": 0.15, "series": "+ strand cuts outside"},
      {"distance": 0, "count": 0.09, "series": "+ strand cuts outside"},
      {"distance": 7, "count": 0.13, "series": "+ strand cuts outside"},
      {"distance": 14, "count": 0.06, "series": "+ strand cuts outside"},
      {"distance": 21, "count": 0.1, "series": "+ strand cuts outside"},
      {"distance": 28, "count": 0.07, "series": "+ strand cuts outside"},
      {"distance": 35, "count": 0.12, "series": "+ strand cuts outside"},
      {"distance": 42, "count": 0.06, "series": "+ strand cuts outside"},
      {"distance": 49, "count": 0.1, "series": "+ strand cuts outside"},
      {"distance": 56, "count": 0.08, "series": "+ strand cuts outside"},
      {"distance": 63, "count": 0.13, "series": "+ strand cuts outside"},
      {"distance": 70, "count": 0.07, "series": "+ strand cuts outside"},
      {"distance": 77, "count": 0.1, "series": "+ strand cuts outside"},
      {"distance": 84, "count": 0.06, "series": "+ strand cuts outside"},
      {"distance": 91, "count": 0.11, "series": "+ strand cuts outside"},
      {"distance": 98, "count": 0.08, "series": "+ strand cuts outside"},
      {"distance": 105, "count": 0.12, "series": "+ strand cuts outside"},
      {"distance": 112, "count": 0.06, "series": "+ strand cuts outside"},
      {"distance": 119, "count": 0.1, "series": "+ strand cuts outside"},
      {"distance": 126, "count": 0.07, "series": "+ strand cuts outside"},
      {"distance": 133, "count": 0.12, "series": "+ strand cuts outside"},
      {"distance": 140, "count": 0.09, "series": "+ strand cuts outside"},
      {"distance": 147, "count": 0.14, "series": "+ strand cuts outside"},
      {"distance": 154, "count": 0.08, "series": "+ strand cuts outside"},
      {"distance": 161, "count": 0.16, "series": "+ strand cuts outside"},
      {"distance": 168, "count": 0.1, "series": "+ strand cuts outside"},
      {"distance": 175, "count": 0.2, "series": "+ strand cuts outside"},
      {"distance": 182, "count": 0.08, "series": "+ strand cuts outside"},
      {"distance": 189, "count": 0.12, "series": "+ strand cuts outside"},
      {"distance": 196, "count": 0.2, "series": "+ strand cuts outside"},
      {"distance": 203, "count": 0.09, "series": "+ strand cuts outside"},
      {"distance": 210, "count": 0.1, "series": "+ strand cuts outside"},
      {"distance": -210, "count": 0.2, "series": "− strand cuts outside"},
      {"distance": -204, "count": 0.18, "series": "− strand cuts outside"},
      {"distance": -198, "count": 0.25, "series": "− strand cuts outside"},
      {"distance": -192, "count": 0.2, "series": "− strand cuts outside"},
      {"distance": -186, "count": 0.15, "series": "− strand cuts outside"},
      {"distance": -180, "count": 0.22, "series": "− strand cuts outside"},
      {"distance": -174, "count": 0.17, "series": "− strand cuts outside"},
      {"distance": -168, "count": 0.24, "series": "− strand cuts outside"},
      {"distance": -162, "count": 0.18, "series": "− strand cuts outside"},
      {"distance": -156, "count": 0.2, "series": "− strand cuts outside"},
      {"distance": -150, "count": 0.25, "series": "− strand cuts outside"},
      {"distance": -144, "count": 0.18, "series": "− strand cuts outside"},
      {"distance": -138, "count": 0.22, "series": "− strand cuts outside"},
      {"distance": -134, "count": 0.38, "series": "− strand cuts outside"},
      {"distance": -130, "count": 0.2, "series": "− strand cuts outside"},
      {"distance": -124, "count": 0.24, "series": "− strand cuts outside"},
      {"distance": -118, "count": 0.17, "series": "− strand cuts outside"},
      {"distance": -112, "count": 0.22, "series": "− strand cuts outside"},
      {"distance": -107, "count": 0.36, "series": "− strand cuts outside"},
      {"distance": -102, "count": 0.2, "series": "− strand cuts outside"},
      {"distance": -96, "count": 0.24, "series": "− strand cuts outside"},
      {"distance": -90, "count": 0.18, "series": "− strand cuts outside"},
      {"distance": -84, "count": 0.22, "series": "− strand cuts outside"},
      {"distance": -78, "count": 0.16, "series": "− strand cuts outside"},
      {"distance": -72, "count": 0.24, "series": "− strand cuts outside"},
      {"distance": -66, "count": 0.2, "series": "− strand cuts outside"},
      {"distance": -60, "count": 0.3, "series": "− strand cuts outside"},
      {"distance": -54, "count": 0.18, "series": "− strand cuts outside"},
      {"distance": -48, "count": 0.24, "series": "− strand cuts outside"},
      {"distance": -42, "count": 0.32, "series": "− strand cuts outside"},
      {"distance": -36, "count": 0.2, "series": "− strand cuts outside"},
      {"distance": -30, "count": 0.22, "series": "− strand cuts outside"},
      {"distance": -24, "count": 0.18, "series": "− strand cuts outside"},
      {"distance": -18, "count": 0.25, "series": "− strand cuts outside"},
      {"distance": -12, "count": 0.2, "series": "− strand cuts outside"},
      {"distance": -6, "count": 0.24, "series": "− strand cuts outside"},
      {"distance": 0, "count": 0.18, "series": "− strand cuts outside"},
      {"distance": 6, "count": 0.22, "series": "− strand cuts outside"},
      {"distance": 12, "count": 0.26, "series": "− strand cuts outside"},
      {"distance": 18, "count": 0.18, "series": "− strand cuts outside"},
      {"distance": 24, "count": 0.3, "series": "− strand cuts outside"},
      {"distance": 30, "count": 0.2, "series": "− strand cuts outside"},
      {"distance": 36, "count": 0.24, "series": "− strand cuts outside"},
      {"distance": 42, "count": 0.18, "series": "− strand cuts outside"},
      {"distance": 48, "count": 0.22, "series": "− strand cuts outside"},
      {"distance": 54, "count": 0.3, "series": "− strand cuts outside"},
      {"distance": 60, "count": 0.2, "series": "− strand cuts outside"},
      {"distance": 66, "count": 0.24, "series": "− strand cuts outside"},
      {"distance": 72, "count": 0.18, "series": "− strand cuts outside"},
      {"distance": 78, "count": 0.22, "series": "− strand cuts outside"},
      {"distance": 84, "count": 0.26, "series": "− strand cuts outside"},
      {"distance": 90, "count": 0.2, "series": "− strand cuts outside"},
      {"distance": 96, "count": 0.24, "series": "− strand cuts outside"},
      {"distance": 102, "count": 0.18, "series": "− strand cuts outside"},
      {"distance": 108, "count": 0.22, "series": "− strand cuts outside"},
      {"distance": 114, "count": 0.2, "series": "− strand cuts outside"},
      {"distance": 120, "count": 0.25, "series": "− strand cuts outside"},
      {"distance": 126, "count": 0.18, "series": "− strand cuts outside"},
      {"distance": 132, "count": 0.22, "series": "− strand cuts outside"},
      {"distance": 138, "count": 0.2, "series": "− strand cuts outside"},
      {"distance": 144, "count": 0.24, "series": "− strand cuts outside"},
      {"distance": 150, "count": 0.2, "series": "− strand cuts outside"},
      {"distance": 156, "count": 0.38, "series": "− strand cuts outside"},
      {"distance": 162, "count": 0.3, "series": "− strand cuts outside"},
      {"distance": 168, "count": 0.34, "series": "− strand cuts outside"},
      {"distance": 174, "count": 0.2, "series": "− strand cuts outside"},
      {"distance": 180, "count": 0.24, "series": "− strand cuts outside"},
      {"distance": 186, "count": 0.18, "series": "− strand cuts outside"},
      {"distance": 192, "count": 0.22, "series": "− strand cuts outside"},
      {"distance": 198, "count": 0.2, "series": "− strand cuts outside"},
      {"distance": 204, "count": 0.24, "series": "− strand cuts outside"},
      {"distance": 210, "count": 0.2, "series": "− strand cuts outside"}
    ]
  },
  "vconcat": [
    {
      "width": 555,
      "height": 183,
      "data": {"name": "top"},
      "mark": {"type": "line", "strokeWidth": 3.2, "strokeJoin": "round"},
      "encoding": {
        "x": {"field": "distance", "type": "quantitative",
          "scale": {"domain": [-231, 228], "nice": false, "zero": false},
          "axis": {"title": null, "labels": false, "ticks": false,
            "values": [-200, -150, -100, -50, 0, 50, 100, 150, 200],
            "gridColor": {"condition": {"test": "datum.value % 100 === 0", "value": "#EBEBEB"}, "value": "#F6F6F6"}}},
        "y": {"field": "count", "type": "quantitative",
          "scale": {"domain": [-0.83, 21.37], "nice": false, "zero": false},
          "axis": {"title": "average DNase I cut count", "titleY": 184, "titlePadding": 0,
            "values": [0, 2.5, 5, 7.5, 10, 12.5, 15, 17.5, 20],
            "labelExpr": "datum.value % 5 === 0 ? datum.label : ''",
            "tickOpacity": {"condition": {"test": "datum.value % 5 === 0", "value": 1}, "value": 0},
            "gridColor": {"condition": {"test": "datum.value % 5 === 0", "value": "#EBEBEB"}, "value": "#F6F6F6"}}},
        "color": {"field": "series", "type": "nominal",
          "scale": {"domain": ["cuts inside ChIP−Seq peaks", "cuts outside ChIP−Seq peaks", "+ strand cuts inside", "− strand cuts inside", "+ strand cuts outside", "− strand cuts outside"],
            "range": ["#000000", "#BEBEBE", "#4169E1", "#FF0000", "#87CEEB", "#FFC0CB"]},
          "legend": {"orient": "none", "legendX": 96, "legendY": 411, "direction": "horizontal", "columns": 3, "title": null,
            "symbolType": "stroke", "symbolStrokeWidth": 3, "symbolSize": 144, "labelFontSize": 9, "labelFont": "Liberation Sans",
            "labelColor": "#000000", "labelOffset": 3, "columnPadding": -3, "rowPadding": 3, "padding": 0, "symbolOffset": 0, "labelLimit": 300}}
      }
    },
    {
      "width": 555,
      "height": 183,
      "data": {"name": "bottom"},
      "mark": {"type": "line", "strokeWidth": 3.2, "strokeJoin": "round"},
      "encoding": {
        "x": {"field": "distance", "type": "quantitative",
          "scale": {"domain": [-231, 228], "nice": false, "zero": false},
          "axis": {"title": "distance to motif", "titlePadding": 0,
            "values": [-200, -150, -100, -50, 0, 50, 100, 150, 200],
            "labelExpr": "datum.value % 100 === 0 ? datum.label : ''",
            "tickOpacity": {"condition": {"test": "datum.value % 100 === 0", "value": 1}, "value": 0},
            "gridColor": {"condition": {"test": "datum.value % 100 === 0", "value": "#EBEBEB"}, "value": "#F6F6F6"}}},
        "y": {"field": "count", "type": "quantitative",
          "scale": {"domain": [-0.45, 11.42], "nice": false, "zero": false},
          "axis": {"title": null,
            "values": [0, 1.5, 3, 4.5, 6, 7.5, 9, 10.5],
            "labelExpr": "datum.value % 3 === 0 ? datum.label : ''",
            "tickOpacity": {"condition": {"test": "datum.value % 3 === 0", "value": 1}, "value": 0},
            "gridColor": {"condition": {"test": "datum.value % 3 === 0", "value": "#EBEBEB"}, "value": "#F6F6F6"}}},
        "color": {"field": "series", "type": "nominal",
          "scale": {"domain": ["cuts inside ChIP−Seq peaks", "cuts outside ChIP−Seq peaks", "+ strand cuts inside", "− strand cuts inside", "+ strand cuts outside", "− strand cuts outside"],
            "range": ["#000000", "#BEBEBE", "#4169E1", "#FF0000", "#87CEEB", "#FFC0CB"]},
          "legend": {"orient": "none", "legendX": 96, "legendY": 411, "direction": "horizontal", "columns": 3, "title": null,
            "symbolType": "stroke", "symbolStrokeWidth": 3, "symbolSize": 144, "labelFontSize": 9, "labelFont": "Liberation Sans",
            "labelColor": "#000000", "labelOffset": 3, "columnPadding": -3, "rowPadding": 3, "padding": 0, "symbolOffset": 0, "labelLimit": 300}}
      }
    }
  ]
}
